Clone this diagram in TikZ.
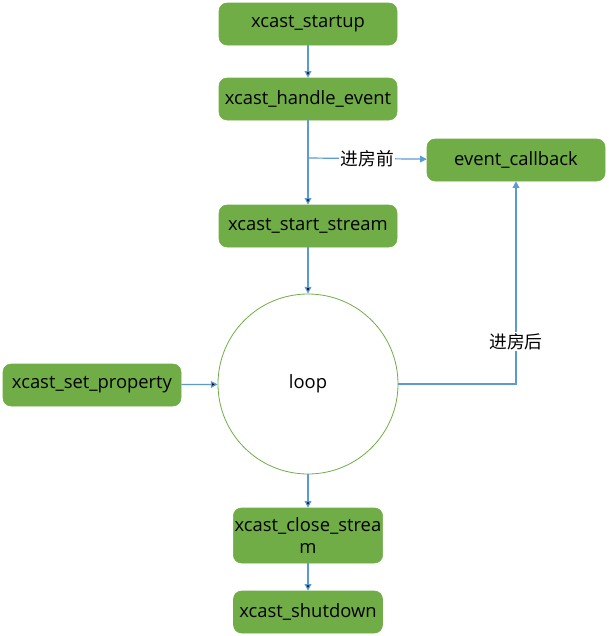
\documentclass[tikz,border=0pt]{standalone}
\usepackage{fontspec}
\setmainfont{Open Sans}
\newfontfamily\cjk{Noto Sans CJK SC}
\usetikzlibrary{arrows.meta}
\definecolor{boxgreen}{HTML}{70AD47}
\definecolor{lineblue}{HTML}{5B9BD5}
\begin{document}
\begin{tikzpicture}[x=0.75pt,y=-0.75pt]
		\tikzstyle{fn}=[rectangle,rounded corners=6pt,fill=boxgreen,draw=boxgreen,text=black,font=\fontsize{13.8}{16.5}\selectfont,minimum width=133.5pt,minimum height=31.5pt,inner sep=1pt]
		\tikzstyle{flow}=[draw=lineblue,line width=0.9pt,-{Triangle[length=5pt,width=5pt]}]
		\tikzstyle{tag}=[fill=white,font=\cjk\fontsize{13.3}{15}\selectfont,inner sep=1pt]
		\useasboundingbox (0,0) rectangle (608,636);
		\begin{scope}
		\node[fn] (startup) at (308,24)  {xcast\_startup};
		\node[fn] (handle) at (308,99)  {xcast\_handle\_event};
		\node[fn] (callback) at (516,160) {event\_callback};
		\node[fn] (start) at (308,226) {xcast\_start\_stream};
		\node[circle,draw=boxgreen,line width=0.6pt,minimum size=135pt,font=\fontsize{13.8}{16.5}\selectfont] (loop) at (308,384) {loop};
		\node[fn] (setprop) at (92,385) {xcast\_set\_property};
		\node[fn,minimum width=111.75pt,minimum height=41.25pt,align=center] (close) at (308,535.5) {xcast\_close\_strea\\m};
		\node[fn,minimum width=111.75pt] (shutdown) at (308,612) {xcast\_shutdown};
		\coordinate (split) at (308,158);
		\end{scope}
		
		\path[flow]
		(startup) edge (handle)
		(handle) edge (start)
		(start) edge (loop)
		(setprop) edge (loop)
		(loop) edge (close)
		(close) edge (shutdown)
		;
		\draw[flow] (split) -- node[tag] {进房前} (callback);
		\draw[flow] (loop.east) -| node[tag,pos=0.605] {进房后} (callback.south);
		
		\end{tikzpicture}
\end{document}
